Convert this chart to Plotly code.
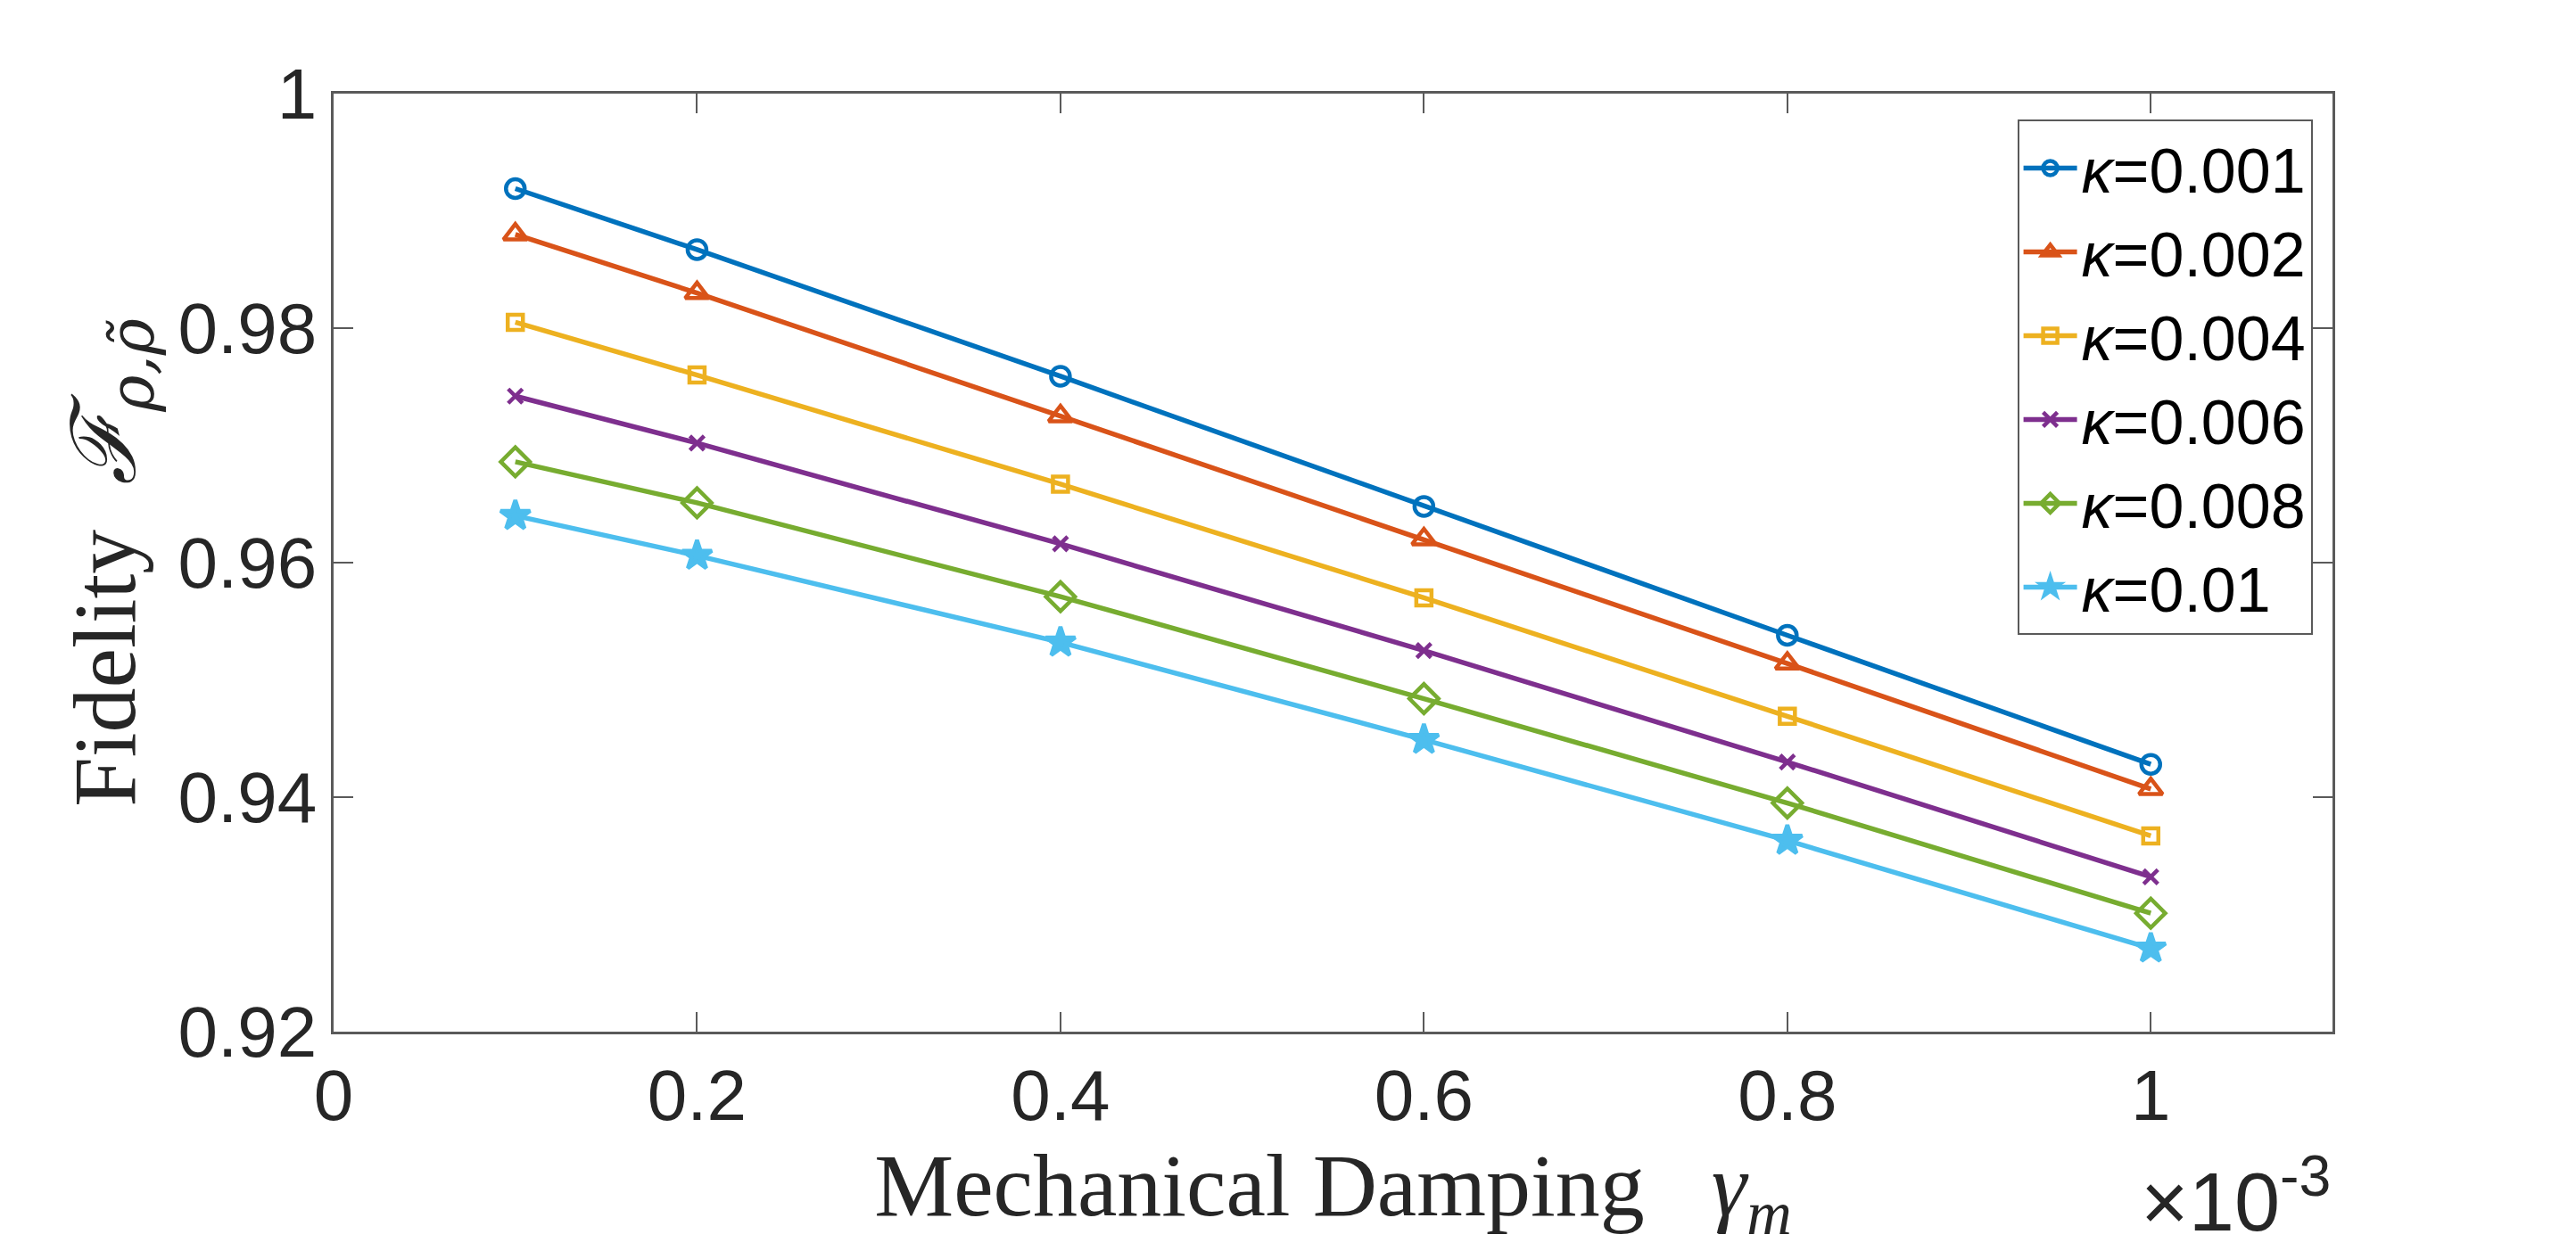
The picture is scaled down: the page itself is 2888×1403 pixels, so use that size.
import plotly.graph_objects as go

# data
gamma_m = [0.1e-3, 0.2e-3, 0.4e-3, 0.6e-3, 0.8e-3, 1.0e-3]
labels = ["κ=0.001", "κ=0.002", "κ=0.004", "κ=0.006", "κ=0.008", "κ=0.01"]
f_k0001 = [0.9919, 0.9867, 0.9759, 0.9648, 0.9538, 0.9428]
f_k0002 = [0.9880, 0.9830, 0.9725, 0.9620, 0.9514, 0.9407]
f_k0004 = [0.9805, 0.9760, 0.9667, 0.9570, 0.9469, 0.9367]
f_k0006 = [0.9742, 0.9702, 0.9616, 0.9525, 0.9430, 0.9332]
f_k0008 = [0.9686, 0.9651, 0.9571, 0.9484, 0.9395, 0.9301]
f_k0010 = [0.9640, 0.9606, 0.9532, 0.9449, 0.9363, 0.9271]
x_ticks = [0, 0.2e-3, 0.4e-3, 0.6e-3, 0.8e-3, 1.0e-3]
x_ticktext = ["0", "0.2", "0.4", "0.6", "0.8", "1"]
y_ticks = [0.92, 0.94, 0.96, 0.98, 1.0]
y_ticktext = ["0.92", "0.94", "0.96", "0.98", "1"]

series = [f_k0001, f_k0002, f_k0004, f_k0006, f_k0008, f_k0010]
colors = ["#0072BD", "#D95319", "#EDB120", "#7E2F8E", "#77AC30", "#4DBEEE"]
symbols = ["circle-open", "triangle-up-open", "square-open", "x-thin-open", "diamond-open", "star"]
msizes = [21, 23, 17, 16, 25, 25]

fig = go.Figure()
for lab, ys, c, s, ms in zip(labels, series, colors, symbols, msizes):
    fig.add_trace(go.Scatter(
        x=gamma_m, y=ys, mode="lines+markers",
        name="<i>κ</i>" + lab[1:],
        line=dict(color=c, width=5.5),
        marker=dict(symbol=s, size=ms, color=c, line=dict(color=c, width=4.5)),
    ))

axis_col = "#5a5a5a"
tick_font = dict(family="Liberation Sans, Arial, sans-serif", size=80, color="#262626")
title_font = dict(family="Liberation Serif, Times New Roman, serif", size=100, color="#262626")
fig.update_layout(
    width=2888, height=1403,
    margin=dict(l=374, r=273, t=105, b=246),
    plot_bgcolor="white", paper_bgcolor="white",
    showlegend=True,
    legend=dict(
        x=0.990, y=0.972, xanchor="right", yanchor="top",
        bgcolor="white", bordercolor=axis_col, borderwidth=2,
        font=dict(family="Liberation Sans, Arial, sans-serif", size=70, color="black"),
        itemwidth=60, tracegroupgap=0,
    ),
    xaxis=dict(
        range=[0, 1.1e-3], tickvals=x_ticks, ticktext=x_ticktext,
        ticks="inside", ticklen=22, tickwidth=1.5, tickcolor=axis_col,
        showline=True, linecolor=axis_col, linewidth=2.5, mirror="ticks",
        showgrid=False, zeroline=False, tickfont=tick_font,
        title=dict(text="Mechanical Damping   <i>γ<sub>m</sub></i>",
                   font=title_font, standoff=22),
    ),
    yaxis=dict(
        range=[0.92, 1.0], tickvals=y_ticks, ticktext=y_ticktext,
        ticks="inside", ticklen=22, tickwidth=1.5, tickcolor=axis_col,
        showline=True, linecolor=axis_col, linewidth=2.5, mirror="ticks",
        showgrid=False, zeroline=False, tickfont=tick_font,
        title=dict(text="Fidelity  <i>ℱ</i><sub><span style=\"font-family:DejaVu Serif\"><i>ρ,ρ̃</i></span></sub>",
                   font=title_font, standoff=15),
    ),
)
fig.add_annotation(
    text="×10<sup>-3</sup>", xref="paper", yref="paper", x=1.0, y=-0.232,
    xanchor="right", yanchor="bottom", showarrow=False,
    font=dict(family="Liberation Sans, Arial, sans-serif", size=92, color="#262626"),
)
fig.write_html("out.html")
